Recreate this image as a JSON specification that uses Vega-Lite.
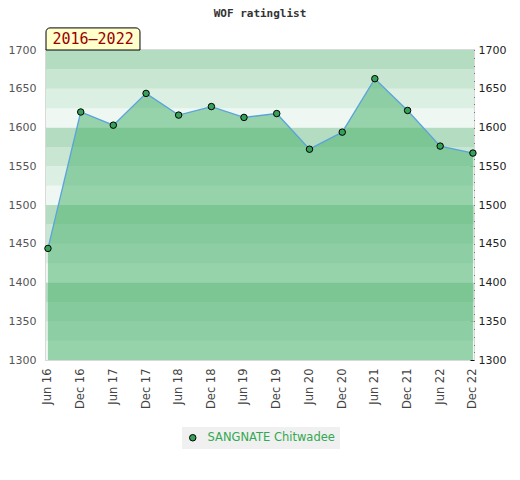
{
  "$schema": "https://vega.github.io/schema/vega-lite/v6.json",
  "width": 428,
  "height": 310,
  "autosize": {"type": "none"},
  "padding": {"left": 46, "top": 50, "right": 46, "bottom": 120},
  "title": {"text": "WOF ratinglist", "font": "DejaVu Sans Mono", "fontSize": 11, "fontWeight": "bold", "color": "#333333", "anchor": "middle", "frame": "group", "offset": 8},
  "config": {
    "view": {"stroke": "#d9d9d9", "strokeWidth": 2},
    "axis": {"labelFont": "DejaVu Sans", "labelFontSize": 11, "grid": false, "domain": false, "title": null}
  },
  "datasets": {
    "ratings": [
      {"date": "2016-06-01", "rating": 1444, "player": "SANGNATE Chitwadee"},
      {"date": "2016-12-01", "rating": 1620, "player": "SANGNATE Chitwadee"},
      {"date": "2017-06-01", "rating": 1603, "player": "SANGNATE Chitwadee"},
      {"date": "2017-12-01", "rating": 1644, "player": "SANGNATE Chitwadee"},
      {"date": "2018-06-01", "rating": 1616, "player": "SANGNATE Chitwadee"},
      {"date": "2018-12-01", "rating": 1627, "player": "SANGNATE Chitwadee"},
      {"date": "2019-06-01", "rating": 1613, "player": "SANGNATE Chitwadee"},
      {"date": "2019-12-01", "rating": 1618, "player": "SANGNATE Chitwadee"},
      {"date": "2020-06-01", "rating": 1572, "player": "SANGNATE Chitwadee"},
      {"date": "2020-12-01", "rating": 1594, "player": "SANGNATE Chitwadee"},
      {"date": "2021-06-01", "rating": 1663, "player": "SANGNATE Chitwadee"},
      {"date": "2021-12-01", "rating": 1622, "player": "SANGNATE Chitwadee"},
      {"date": "2022-06-01", "rating": 1576, "player": "SANGNATE Chitwadee"},
      {"date": "2022-12-01", "rating": 1567, "player": "SANGNATE Chitwadee"}
    ],
    "bands": [
      {"lo": 1300, "hi": 1325, "level": 0}, {"lo": 1325, "hi": 1350, "level": 1},
      {"lo": 1350, "hi": 1375, "level": 2}, {"lo": 1375, "hi": 1400, "level": 3},
      {"lo": 1400, "hi": 1425, "level": 0}, {"lo": 1425, "hi": 1450, "level": 1},
      {"lo": 1450, "hi": 1475, "level": 2}, {"lo": 1475, "hi": 1500, "level": 3},
      {"lo": 1500, "hi": 1525, "level": 0}, {"lo": 1525, "hi": 1550, "level": 1},
      {"lo": 1550, "hi": 1575, "level": 2}, {"lo": 1575, "hi": 1600, "level": 3},
      {"lo": 1600, "hi": 1625, "level": 0}, {"lo": 1625, "hi": 1650, "level": 1},
      {"lo": 1650, "hi": 1675, "level": 2}, {"lo": 1675, "hi": 1700, "level": 3}
    ],
    "period": [{"label": "2016–2022"}]
  },
  "layer": [
    {
      "data": {"name": "bands"},
      "mark": {"type": "rect", "strokeWidth": 0},
      "encoding": {
        "y": {"field": "lo", "type": "quantitative", "scale": {"domain": [1300, 1700], "nice": false, "zero": false},
          "axis": {"orient": "left", "values": [1300, 1350, 1400, 1450, 1500, 1550, 1600, 1650, 1700], "format": "d", "ticks": false, "labelPadding": 10, "labelColor": "#555555"}},
        "y2": {"field": "hi"},
        "color": {"field": "level", "type": "ordinal", "scale": {"domain": [0, 1, 2, 3], "range": ["#eef7f1", "#dcefe3", "#c8e6d1", "#b3dcc0"]}, "legend": null}
      }
    },
    {
      "data": {"name": "ratings"},
      "mark": {"type": "area", "color": "#50b473", "fillOpacity": 0.56, "strokeWidth": 0},
      "encoding": {
        "x": {"field": "date", "type": "temporal",
          "scale": {"type": "utc", "domain": [{"year": 2016, "month": 5, "date": 21, "utc": true}, {"year": 2022, "month": 12, "date": 7, "utc": true}]},
          "axis": {"values": [
            {"year": 2016, "month": 6, "date": 1, "utc": true}, {"year": 2016, "month": 12, "date": 1, "utc": true},
            {"year": 2017, "month": 6, "date": 1, "utc": true}, {"year": 2017, "month": 12, "date": 1, "utc": true},
            {"year": 2018, "month": 6, "date": 1, "utc": true}, {"year": 2018, "month": 12, "date": 1, "utc": true},
            {"year": 2019, "month": 6, "date": 1, "utc": true}, {"year": 2019, "month": 12, "date": 1, "utc": true},
            {"year": 2020, "month": 6, "date": 1, "utc": true}, {"year": 2020, "month": 12, "date": 1, "utc": true},
            {"year": 2021, "month": 6, "date": 1, "utc": true}, {"year": 2021, "month": 12, "date": 1, "utc": true},
            {"year": 2022, "month": 6, "date": 1, "utc": true}, {"year": 2022, "month": 12, "date": 1, "utc": true}
          ], "labelExpr": "utcFormat(datum.value, '%b %y')", "labelAngle": -90, "labelOverlap": false, "ticks": false, "labelPadding": 8, "labelColor": "#444444", "labelFontSize": 11.5}},
        "y": {"field": "rating", "type": "quantitative", "scale": {"domain": [1300, 1700], "nice": false, "zero": false},
          "axis": {"orient": "right", "values": [1300, 1310, 1320, 1330, 1340, 1350, 1360, 1370, 1380, 1390, 1400, 1410, 1420, 1430, 1440, 1450, 1460, 1470, 1480, 1490, 1500, 1510, 1520, 1530, 1540, 1550, 1560, 1570, 1580, 1590, 1600, 1610, 1620, 1630, 1640, 1650, 1660, 1670, 1680, 1690, 1700],
            "labelExpr": "datum.value % 50 == 0 ? format(datum.value, 'd') : ''", "tickSize": -4, "tickWidth": 1, "tickColor": "#111111", "labelPadding": 8, "labelColor": "#222222", "labelBound": false, "labelOverlap": false}},
        "y2": {"datum": 1300}
      }
    },
    {
      "data": {"name": "ratings"},
      "transform": [{"filter": "datum.date == '2016-06-01' || datum.date == '2022-12-01'"}],
      "mark": {"type": "rule", "color": "#2aa84a", "strokeWidth": 1},
      "encoding": {
        "x": {"field": "date", "type": "temporal", "axis": null},
        "y": {"field": "rating", "type": "quantitative", "axis": null},
        "y2": {"datum": 1300}
      }
    },
    {
      "data": {"name": "ratings"},
      "mark": {"type": "line", "color": "#5ba3dc", "strokeWidth": 1.3},
      "encoding": {
        "x": {"field": "date", "type": "temporal", "axis": null},
        "y": {"field": "rating", "type": "quantitative", "axis": null}
      }
    },
    {
      "data": {"name": "ratings"},
      "mark": {"type": "point", "filled": true, "size": 42, "stroke": "black", "strokeWidth": 1, "opacity": 1},
      "encoding": {
        "x": {"field": "date", "type": "temporal", "axis": null},
        "y": {"field": "rating", "type": "quantitative", "axis": null},
        "color": {"field": "player", "type": "nominal", "scale": {"range": ["#36a259"]},
          "legend": {"orient": "none", "legendX": 136, "legendY": 377, "title": null, "fillColor": "#f0f0f0", "padding": 5,
            "labelColor": "#33a852", "labelFont": "DejaVu Sans", "labelFontSize": 11.5, "labelOffset": 9, "symbolType": "circle", "symbolSize": 42,
            "symbolStrokeColor": "black", "symbolStrokeWidth": 1, "symbolOpacity": 1}}
      }
    },
    {
      "data": {"name": "period"},
      "mark": {"type": "rect", "fill": "#ffffcc", "stroke": "black", "strokeWidth": 1, "cornerRadiusTopLeft": 4, "cornerRadiusTopRight": 4},
      "encoding": {
        "x": {"datum": {"year": 2016, "month": 5, "date": 21, "utc": true}, "type": "temporal", "axis": null},
        "x2": {"datum": {"year": 2017, "month": 10, "date": 28, "utc": true}},
        "y": {"datum": 1700, "type": "quantitative", "axis": null},
        "y2": {"datum": 1728.5}
      }
    },
    {
      "data": {"name": "period"},
      "mark": {"type": "text", "font": "DejaVu Sans Mono", "fontSize": 15, "color": "#990000", "baseline": "middle", "align": "center"},
      "encoding": {
        "x": {"datum": {"year": 2017, "month": 2, "date": 8, "utc": true}, "type": "temporal", "axis": null},
        "y": {"datum": 1714, "type": "quantitative", "axis": null},
        "text": {"field": "label"}
      }
    }
  ],
  "resolve": {"scale": {"color": "independent"}, "axis": {"x": "independent", "y": "independent"}}
}
